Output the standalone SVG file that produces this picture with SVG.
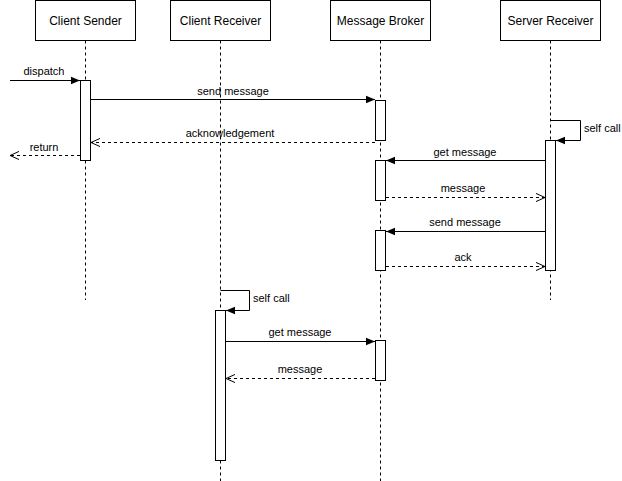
<svg xmlns="http://www.w3.org/2000/svg" width="622" height="481" viewBox="0 0 622 481">
<defs>
<marker id="filled" viewBox="0 0 10 10" refX="10" refY="5" markerWidth="9" markerHeight="9" markerUnits="userSpaceOnUse" orient="auto">
<path d="M0,0.8 L10,5 L0,9.2 Z" fill="#000"/>
</marker>
<marker id="open" viewBox="0 0 10 10" refX="10" refY="5" markerWidth="9" markerHeight="9" markerUnits="userSpaceOnUse" orient="auto">
<path d="M0,0.5 L10,5 L0,9.5" fill="none" stroke="#000" stroke-width="1.1"/>
</marker>
</defs>
<style>
.box{fill:#fff;stroke:#000;stroke-width:1}
.life{stroke:#000;stroke-width:1;stroke-dasharray:3 3;fill:none}
.act{fill:#fff;stroke:#000;stroke-width:1}
.title{font-family:"Liberation Sans",Arial,sans-serif;font-size:12px;text-anchor:middle;fill:#000}
.lbl{font-family:"Liberation Sans",Arial,sans-serif;font-size:11px;text-anchor:middle;fill:#000}
.sl{font-family:"Liberation Sans",Arial,sans-serif;font-size:11px;fill:#000}
.msg{stroke:#000;stroke-width:1;fill:none;marker-end:url(#filled)}
.ret{stroke:#000;stroke-width:1;fill:none;stroke-dasharray:3 3;marker-end:url(#open)}
</style>
<rect width="622" height="481" fill="#fff"/>
<g id="client-sender">
<rect class="box" x="35.5" y="0.5" width="100" height="40"/>
<text class="title" x="85.5" y="24.5">Client Sender</text>
<line class="life" x1="85.5" y1="40.5" x2="85.5" y2="300"/>
<rect class="act" x="80.5" y="80.5" width="10" height="80"/>
</g>
<g id="client-receiver">
<rect class="box" x="170.5" y="0.5" width="100" height="40"/>
<text class="title" x="220.5" y="24.5">Client Receiver</text>
<line class="life" x1="220.5" y1="40.5" x2="220.5" y2="481"/>
<rect class="act" x="215.5" y="310.5" width="10" height="150"/>
</g>
<g id="message-broker">
<rect class="box" x="330.5" y="0.5" width="100" height="40"/>
<text class="title" x="380.5" y="24.5">Message Broker</text>
<line class="life" x1="380.5" y1="40.5" x2="380.5" y2="481"/>
<rect class="act" x="375.5" y="100.5" width="10" height="40"/>
<rect class="act" x="375.5" y="160.5" width="10" height="40"/>
<rect class="act" x="375.5" y="230.5" width="10" height="40"/>
<rect class="act" x="375.5" y="340.5" width="10" height="40"/>
</g>
<g id="server-receiver">
<rect class="box" x="500.5" y="0.5" width="100" height="40"/>
<text class="title" x="550.5" y="24.5">Server Receiver</text>
<line class="life" x1="550.5" y1="40.5" x2="550.5" y2="300"/>
<rect class="act" x="545.5" y="140.5" width="10" height="130"/>
</g>
<g id="connectors">
<line class="msg" x1="10" y1="80.5" x2="80" y2="80.5"/>
<text class="lbl" x="44" y="75">dispatch</text>
<line class="msg" x1="90.5" y1="99.5" x2="375" y2="99.5"/>
<text class="lbl" x="233" y="94.5">send message</text>
<line class="ret" x1="375" y1="142.5" x2="91" y2="142.5"/>
<text class="lbl" x="230" y="136.5">acknowledgement</text>
<line class="ret" x1="80" y1="155.5" x2="10" y2="155.5"/>
<text class="lbl" x="44" y="151">return</text>
<path class="msg" d="M550.5,120.5 H580.5 V140.5 H556"/>
<text class="sl" x="584" y="132">self call</text>
<line class="msg" x1="545" y1="160.5" x2="386" y2="160.5"/>
<text class="lbl" x="465" y="156">get message</text>
<line class="ret" x1="386" y1="197.5" x2="545" y2="197.5"/>
<text class="lbl" x="463" y="192">message</text>
<line class="msg" x1="545" y1="231.5" x2="386" y2="231.5"/>
<text class="lbl" x="465" y="226">send message</text>
<line class="ret" x1="386" y1="266.5" x2="545" y2="266.5"/>
<text class="lbl" x="463" y="261">ack</text>
<path class="msg" d="M220.5,290.5 H249.5 V310.5 H226"/>
<text class="sl" x="253" y="302">self call</text>
<line class="msg" x1="226" y1="341.5" x2="375" y2="341.5"/>
<text class="lbl" x="300" y="336">get message</text>
<line class="ret" x1="375" y1="378.5" x2="226" y2="378.5"/>
<text class="lbl" x="300" y="373">message</text>
</g>
</svg>
